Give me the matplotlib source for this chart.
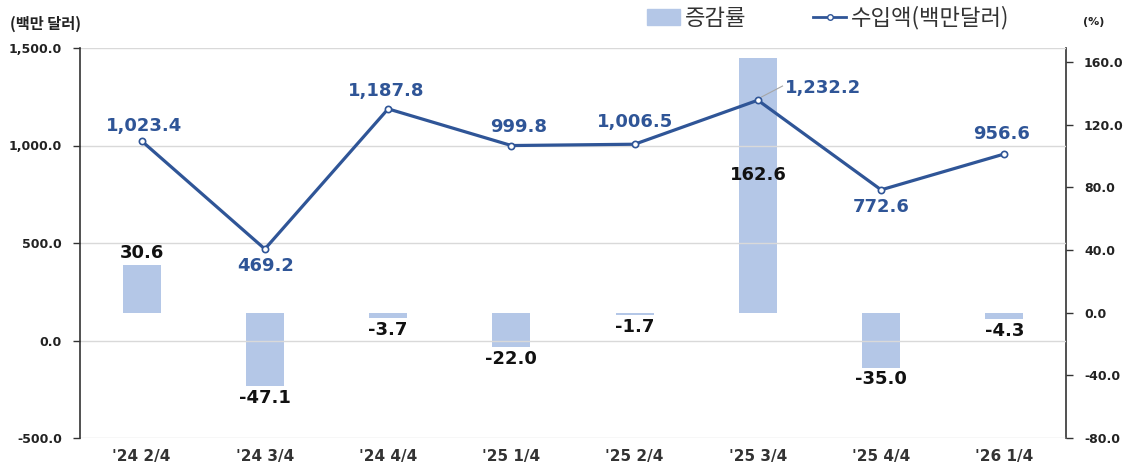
import numpy as np
import matplotlib
matplotlib.use("Agg")
from matplotlib import pyplot as plt
from matplotlib.lines import Line2D
from matplotlib.patches import Patch

plt.rcParams['font.family'] = ['DejaVu Sans', 'Noto Sans CJK KR']

# data
quarters = ["'24 2/4", "'24 3/4", "'24 4/4", "'25 1/4", "'25 2/4", "'25 3/4", "'25 4/4", "'26 1/4"]
imports = [1023.4, 469.2, 1187.8, 999.8, 1006.5, 1232.2, 772.6, 956.6]
growth = [30.6, -47.1, -3.7, -22.0, -1.7, 162.6, -35.0, -4.3]

line_color = '#2F5597'
bar_color = '#B4C7E7'

fig = plt.figure(figsize=(11.3, 4.72), dpi=100)
ax = fig.add_axes([80/1130, 1-438/472, 986/1130, 390/472])
ax2 = ax.twinx()
x = np.arange(len(quarters))

# bars on right axis, drawn behind line
ax.set_zorder(ax2.get_zorder() + 1)
ax.patch.set_visible(False)
ax2.bar(x, growth, width=0.31, color=bar_color, zorder=2)
ax2.set_ylim(-80, 169)
ax2.set_yticks([-80, -40, 0, 40, 80, 120, 160])
ax2.set_yticklabels([f"{v:.1f}" for v in [-80, -40, 0, 40, 80, 120, 160]],
                    fontsize=9, fontweight='bold', color='#222222')

ax.plot(x, imports, color=line_color, lw=2.3, marker='o', ms=4.5,
        mfc='white', mec=line_color, mew=1.2, zorder=5)
ax.set_ylim(-500, 1500)
ax.set_xlim(-0.5, len(quarters) - 0.5)
ax.set_yticks([-500, 0, 500, 1000, 1500])
ax.set_yticklabels([f"{v:,.1f}" for v in [-500, 0, 500, 1000, 1500]],
                   fontsize=9, fontweight='bold', color='#222222')
ax.set_xticks(x)
ax.set_xticklabels(quarters, fontsize=11, fontweight='bold', color='#333333')
ax.tick_params(axis='x', length=0, pad=8)
ax.tick_params(axis='y', length=5, width=1, pad=8, color='#333333')
ax2.tick_params(axis='y', length=5, width=1, pad=8, color='#333333')
ax.grid(axis='y', color='#D9D9D9', lw=1)
for a in (ax, ax2):
    for s in ('top', 'bottom'):
        a.spines[s].set_visible(False)
ax.spines['right'].set_visible(False)
ax2.spines['left'].set_visible(False)
ax.spines['left'].set_color('#333333')
ax2.spines['right'].set_color('#333333')
ax.spines['left'].set_linewidth(1.2)
ax2.spines['right'].set_linewidth(1.2)

# line labels (offsets in pixels)
line_offsets = [(2, 15), (1, -17), (-2, 18), (7, 19), (0, 22), (65, 12), (0, -17), (-3, 20)]
for i, (v, off) in enumerate(zip(imports, line_offsets)):
    ax.annotate(f"{v:,.1f}", (i, v), xytext=off, textcoords='offset pixels',
                ha='center', va='center', fontsize=13, fontweight='bold', color=line_color, zorder=6)
ax.plot([5.03, 5.2], [1249, 1305], color='#A6A6A6', lw=0.8, zorder=4)

# bar labels
for i, g in enumerate(growth):
    if i == 5:
        ax2.text(i, 88, f"{g:.1f}", ha='center', va='center', fontsize=13,
                 fontweight='bold', color='#111111', zorder=6)
    elif g >= 0:
        ax2.annotate(f"{g:.1f}", (i, g), xytext=(0, 2), textcoords='offset points',
                     ha='center', va='bottom', fontsize=13, fontweight='bold', color='#111111')
    else:
        ax2.annotate(f"{g:.1f}", (i, g), xytext=(0, -2), textcoords='offset points',
                     ha='center', va='top', fontsize=13, fontweight='bold', color='#111111')

# axis unit labels
fig.text(10/1130, 1-24/472, "(백만 달러)", fontsize=11, fontweight='bold',
         family=['Noto Sans CJK KR', 'DejaVu Sans'], color='#222222', va='center')
fig.text(1083/1130, 1-22/472, "(%)", fontsize=8, fontweight='bold', color='#222222', va='center')

handles = [Patch(color=bar_color),
           Line2D([], [], color=line_color, lw=2, marker='o', ms=4, mfc='white', mec=line_color)]
fig.legend(handles, ["증감률", "수입액(백만달러)"], loc='center', bbox_to_anchor=(828/1130, 1-18/472),
           ncol=2, frameon=False, handlelength=1.5, handletextpad=0.2, columnspacing=3.0,
           prop={'family': ['Noto Sans CJK KR', 'DejaVu Sans'], 'size': 16},
           labelcolor='#333333')

fig.savefig("out.png", dpi=100)
